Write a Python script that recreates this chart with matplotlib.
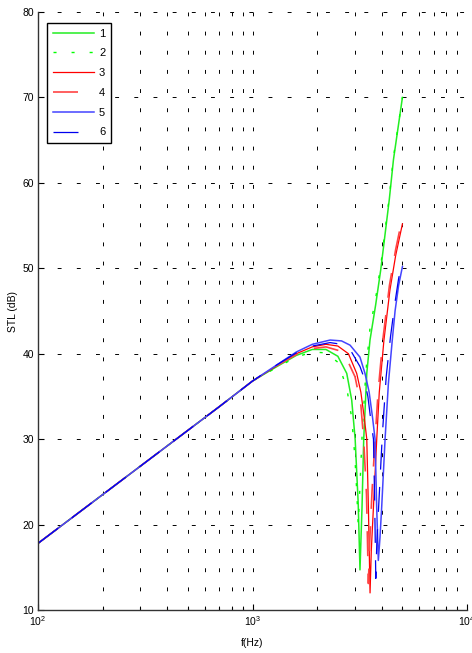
import matplotlib
matplotlib.use("Agg")
import matplotlib.pyplot as plt
from matplotlib.ticker import FixedLocator, NullFormatter, LogLocator

plt.rcParams['font.family'] = ['Liberation Sans', 'DejaVu Sans']
plt.rcParams['mathtext.fontset'] = 'custom'
plt.rcParams['mathtext.rm'] = 'Liberation Sans'
plt.rcParams['mathtext.it'] = 'Liberation Sans'
plt.rcParams['lines.scale_dashes'] = False

# ---------------- data ----------------
labels = ['1', '2', '3', '4', '5', '6']

f1 = [100, 200, 400, 700, 1000, 1300, 1600, 1900, 2200, 2500, 2750, 2900, 3010, 3110, 3170,
      3240, 3300, 3410, 3530, 3750, 3960, 4340, 4540, 5000]
stl1 = [17.8, 23.5, 29.2, 33.8, 36.8, 38.5, 39.8, 40.5, 40.5, 39.7, 37.7, 34.6, 30.0, 22.5, 14.7,
        22.0, 30.0, 37.7, 41.6, 45.7, 49.8, 58.0, 62.7, 70.0]

f2 = [100, 200, 400, 700, 1000, 1300, 1600, 1900, 2200, 2500, 2750, 2900, 3000, 3060, 3110,
      3170, 3250, 3380, 3530, 3750, 3960, 4340, 4540, 5000]
stl2 = [17.8, 23.5, 29.2, 33.8, 36.8, 38.4, 39.6, 40.2, 40.1, 39.0, 36.0, 32.5, 28.0, 24.0, 20.0,
        24.5, 31.0, 38.0, 43.0, 46.5, 50.3, 58.3, 63.0, 70.0]

f3 = [100, 200, 400, 700, 1000, 1300, 1600, 1900, 2200, 2500, 2800, 3060, 3200, 3320, 3410,
      3470, 3532, 3580, 3664, 3795, 3900, 4100, 4375, 4650, 5000]
stl3 = [17.8, 23.5, 29.2, 33.8, 36.8, 38.6, 40.0, 40.8, 41.1, 40.9, 40.0, 37.7, 35.5, 32.5, 30.0,
        22.0, 12.0, 17.0, 22.1, 30.0, 35.5, 41.6, 47.5, 51.5, 55.2]

f4 = [100, 200, 400, 700, 1000, 1300, 1600, 1900, 2200, 2500, 2750, 3006, 3200, 3297, 3400,
      3470, 3520, 3610, 3740, 3850, 4050, 4350, 4650, 5000]
stl4 = [17.8, 23.5, 29.2, 33.8, 36.8, 38.6, 39.9, 40.6, 40.8, 40.4, 39.4, 37.3, 34.0, 30.0, 23.5,
        13.1, 18.0, 24.0, 30.5, 35.5, 41.6, 48.0, 52.2, 56.0]

f5 = [100, 200, 400, 700, 1000, 1300, 1600, 1900, 2300, 2600, 2850, 3170, 3345, 3498, 3629,
      3727, 3793, 3860, 3930, 4003, 4150, 4300, 4480, 4620, 4800, 5000]
stl5 = [17.8, 23.5, 29.2, 33.8, 36.8, 38.7, 40.2, 41.1, 41.6, 41.5, 41.0, 39.6, 37.7, 35.5, 32.5,
        30.0, 22.0, 15.8, 18.5, 22.1, 30.0, 36.5, 41.5, 45.0, 48.0, 50.2]

f6 = [100, 200, 400, 700, 1000, 1300, 1600, 1900, 2300, 2600, 2850, 3170, 3300, 3450, 3570,
      3664, 3710, 3757, 3800, 3890, 4030, 4200, 4400, 4616, 4800, 5000]
stl6 = [17.8, 23.5, 29.2, 33.8, 36.8, 38.7, 40.1, 40.9, 41.3, 41.1, 40.5, 38.5, 37.3, 35.0, 32.0,
        30.0, 23.0, 13.7, 18.0, 23.0, 30.5, 37.3, 42.0, 46.0, 48.8, 51.0]

x_ticks = [100, 1000, 10000]
x_tick_labels = [r'$\mathregular{10^{2}}$', r'$\mathregular{10^{3}}$', r'$\mathregular{10^{4}}$']
y_ticks = [10, 20, 30, 40, 50, 60, 70, 80]

# ---------------- figure ----------------
W, H = 472, 653
fig = plt.figure(figsize=(W / 100, H / 100), dpi=100)
ax = fig.add_axes([38 / W, 1 - 610 / H, 429 / W, 598 / H])

short_dash = (0, (2.2, 10.8))
long_dash = (0, (18.0, 12.5))

series = [
    (f1, stl1, '#22ee22', '-', 1.1),
    (f2, stl2, '#00ff00', short_dash, 1.0),
    (f3, stl3, '#ff0000', '-', 0.9),
    (f4, stl4, '#ff4444', long_dash, 1.2),
    (f5, stl5, '#4444ff', '-', 1.1),
    (f6, stl6, '#0000ee', long_dash, 0.9),
]
for (fx, sy, col, ls, lw), lab in zip(series, labels):
    ax.plot(fx, sy, color=col, linestyle=ls, linewidth=lw, label=lab)

ax.set_xscale('log')
ax.set_xlim(100, 10000)
ax.set_ylim(10, 80)

ax.xaxis.set_major_locator(FixedLocator(x_ticks))
ax.set_xticklabels(x_tick_labels)
ax.xaxis.set_minor_locator(LogLocator(base=10, subs=range(2, 10)))
ax.xaxis.set_minor_formatter(NullFormatter())
ax.set_yticks(y_ticks)

grid_ls = (0, (2.8, 11.0))
ax.grid(True, which='major', axis='both', color='black', linestyle=grid_ls, linewidth=0.7)
ax.grid(True, which='minor', axis='x', color='black', linestyle=grid_ls, linewidth=0.7)

for s in ['top', 'right']:
    ax.spines[s].set_visible(False)
for s in ['left', 'bottom']:
    ax.spines[s].set_linewidth(1.0)
    ax.spines[s].set_color('#333333')

ax.tick_params(which='major', direction='in', length=4, width=0.8, labelsize=7.5, pad=3,
               top=False, right=False)
ax.tick_params(which='minor', direction='in', length=2.5, width=0.8, top=False, right=False)

ax.set_xlabel('f(Hz)', fontsize=7.5, labelpad=7)
ax.set_ylabel('STL (dB)', fontsize=7.5, labelpad=3)

leg = ax.legend(loc='upper left', bbox_to_anchor=(9.3 / 429, 1 - 11 / 598), borderaxespad=0,
                fontsize=8, handlelength=3.7, handletextpad=0.45, labelspacing=0.88,
                borderpad=0.5, frameon=True, fancybox=False)
leg.get_frame().set_edgecolor('black')
leg.get_frame().set_linewidth(1.0)
leg.get_frame().set_alpha(1.0)

fig.savefig('out.png', dpi=100)
